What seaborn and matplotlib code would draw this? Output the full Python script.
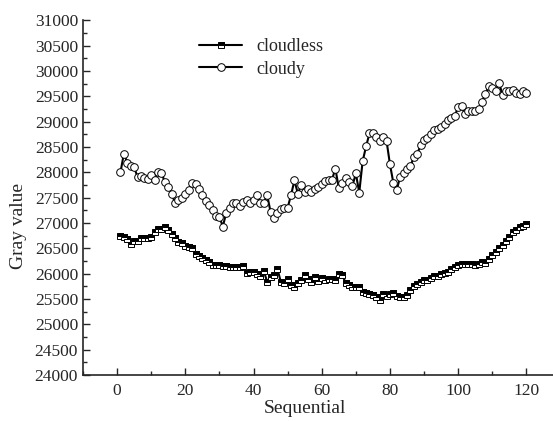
import numpy as np
import pandas as pd
import matplotlib
matplotlib.use("Agg")
import matplotlib.pyplot as plt
from matplotlib.ticker import MultipleLocator
import seaborn as sns

sequential = list(range(1, 121))

cloudless = [
    26740, 26730, 26680, 26580, 26650, 26640, 26700, 26710, 26710, 26720,
    26820, 26880, 26890, 26930, 26860, 26780, 26700, 26630, 26600, 26550,
    26530, 26500, 26380, 26350, 26310, 26280, 26230, 26180, 26170, 26170,
    26150, 26150, 26130, 26130, 26130, 26130, 26150, 26010, 26040, 26030,
    26000, 25950, 26060, 25840, 25930, 25970, 26100, 25840, 25810, 25900,
    25770, 25740, 25820, 25870, 25970, 25900, 25840, 25930, 25860, 25920,
    25870, 25890, 25890, 25880, 25990, 25980, 25820, 25770, 25740, 25740,
    25740, 25640, 25620, 25600, 25580, 25545, 25490, 25600, 25570, 25600,
    25620, 25560, 25540, 25540, 25580, 25680, 25750, 25800, 25830, 25870,
    25880, 25920, 25950, 25960, 25990, 26010, 26030, 26100, 26130, 26170,
    26200, 26200, 26190, 26190, 26180, 26200, 26230, 26220, 26300, 26370,
    26430, 26500, 26560, 26650, 26730, 26820, 26870, 26920, 26940, 26990,
]

cloudy = [
    28000, 28370, 28190, 28120, 28100, 27910, 27930, 27880, 27860, 27940,
    27850, 28000, 27990, 27810, 27720, 27580, 27400, 27450, 27500, 27580,
    27660, 27780, 27770, 27680, 27550, 27430, 27350, 27250, 27140, 27120,
    26930, 27200, 27300, 27390, 27400, 27330, 27420, 27450, 27400, 27450,
    27560, 27400, 27400, 27550, 27220, 27100, 27190, 27270, 27300, 27300,
    27550, 27840, 27580, 27750, 27620, 27680, 27620, 27670, 27710, 27760,
    27830, 27845, 27850, 28075, 27690, 27780, 27890, 27810, 27730, 27980,
    27600, 28220, 28510, 28770, 28780, 28700, 28610, 28700, 28620, 28160,
    27790, 27660, 27910, 27980, 28070, 28120, 28300, 28370, 28530, 28630,
    28670, 28750, 28830, 28860, 28900, 28960, 29030, 29070, 29110, 29290,
    29300, 29150, 29200, 29200, 29200, 29240, 29390, 29550, 29700, 29670,
    29600, 29770, 29520, 29600, 29600, 29620, 29570, 29550, 29600, 29570,
]

df = pd.DataFrame({"seq": sequential, "cloudless": cloudless, "cloudy": cloudy})

sns.set_style("ticks")
plt.rcParams["font.family"] = ["Liberation Serif", "DejaVu Serif"]
plt.rcParams["xtick.direction"] = "in"
plt.rcParams["ytick.direction"] = "in"

fig = plt.figure(figsize=(5.53, 4.21), dpi=100)
ax = fig.add_axes([0.150, 0.109, 0.850, 0.843])

sns.lineplot(data=df, x="seq", y="cloudless", ax=ax, color="black", lw=1.5,
             marker="s", markersize=5, fillstyle="top", markerfacecolor="black",
             markerfacecoloralt="white", markeredgecolor="black",
             markeredgewidth=0.7, label="cloudless")
sns.lineplot(data=df, x="seq", y="cloudy", ax=ax, color="black", lw=1.5,
             marker="o", markersize=5.5, markerfacecolor="white",
             markeredgecolor="black", markeredgewidth=0.7, label="cloudy")

ax.set_xlim(-10, 127.8)
ax.set_ylim(24000, 31000)
ax.xaxis.set_major_locator(MultipleLocator(20))
ax.xaxis.set_minor_locator(MultipleLocator(10))
ax.yaxis.set_major_locator(MultipleLocator(500))
ax.yaxis.set_minor_locator(MultipleLocator(250))
ax.tick_params(which="major", length=5, width=1, labelsize=12.5)
ax.tick_params(axis="x", which="major", pad=6)
ax.tick_params(which="minor", length=3, width=1)
for s in ["top", "right"]:
    ax.spines[s].set_visible(False)
for s in ["left", "bottom"]:
    ax.spines[s].set_linewidth(1.2)

ax.set_xlabel("Sequential", fontsize=14)
ax.set_ylabel("Gray value", fontsize=14)
ax.xaxis.set_label_coords(0.472, -0.07)
ax.yaxis.set_label_coords(-0.12, 0.42)

ax.legend(loc="upper left", bbox_to_anchor=(0.22, 0.985), frameon=False,
          fontsize=13, handlelength=2.4, labelspacing=0.3, borderpad=0.2)

fig.savefig("out.png", dpi=100)
